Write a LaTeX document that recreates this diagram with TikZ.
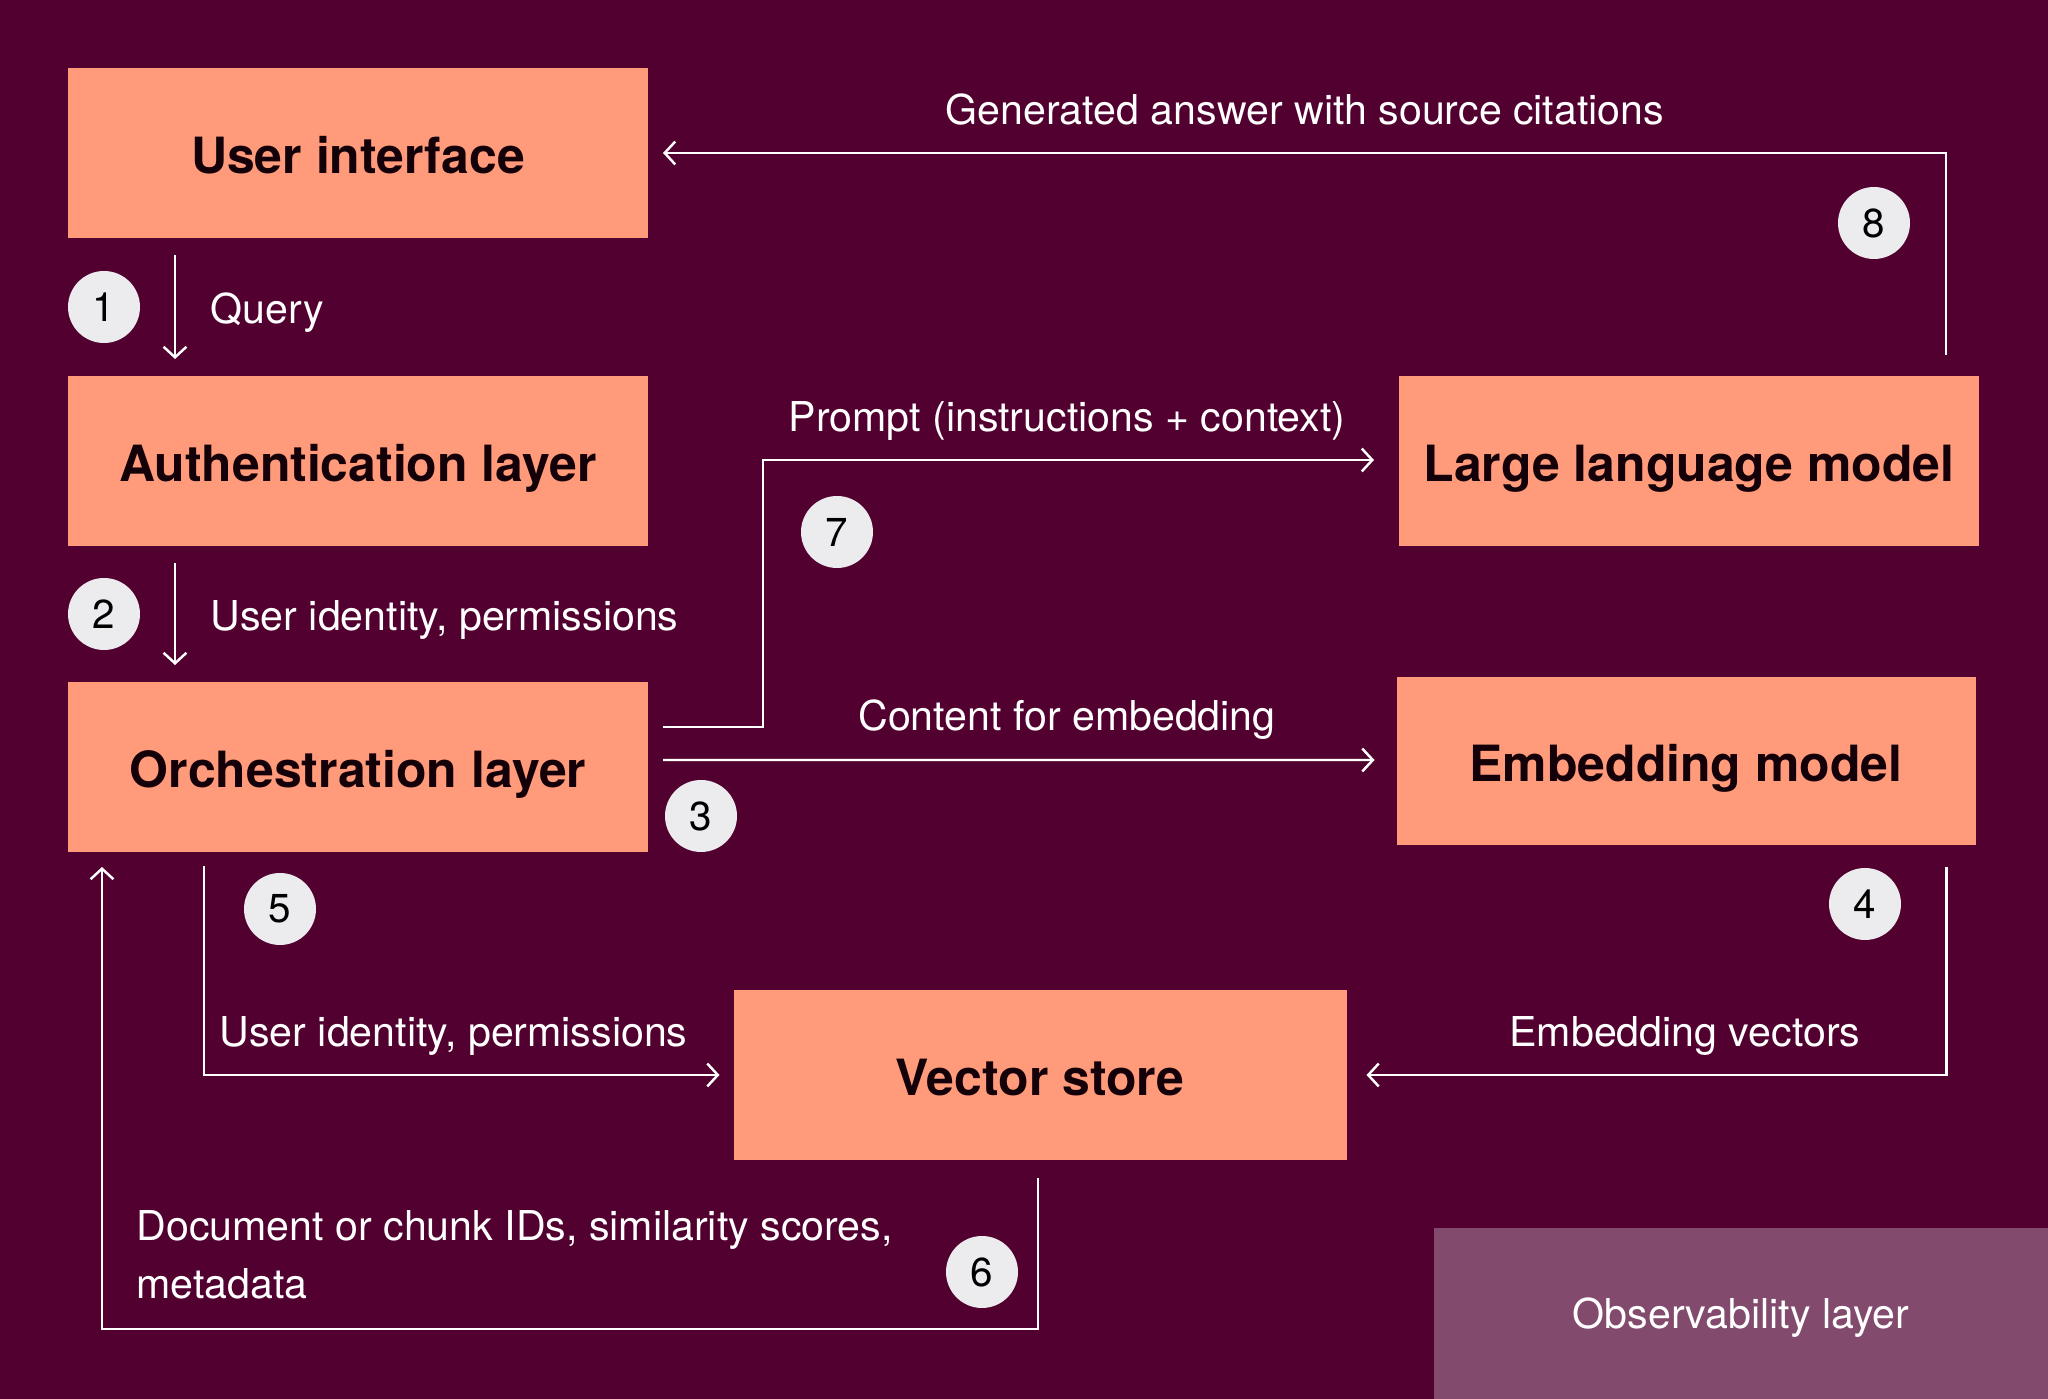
\documentclass[tikz,border=0pt]{standalone}
\usepackage{fontspec}
\setmainfont{TeX Gyre Heros}
\usetikzlibrary{positioning, arrows.meta, calc}
\definecolor{bgcol}{HTML}{520030}
\definecolor{boxcol}{HTML}{FF9A7B}
\definecolor{obscol}{HTML}{824A6C}
\definecolor{numcol}{HTML}{ECEBEE}
\definecolor{textcol}{HTML}{140008}
\tikzset{
  block/.style={rectangle, fill=boxcol, minimum width=5.80cm, minimum height=1.70cm,
                inner sep=0pt, outer sep=0pt, text=textcol,
                text height=11.6pt, text depth=0pt,
                font=\fontsize{14.2}{17}\selectfont\bfseries},
  obs box/.style={rectangle, fill=obscol, minimum width=6.14cm, minimum height=1.71cm,
                  inner sep=0pt, outer sep=0pt, text=white,
                  text height=8.8pt, text depth=0pt,
                  font=\fontsize{11.7}{14}\selectfont},
  num node/.style={circle, fill=numcol, minimum size=7.2mm, inner sep=0pt,
                   text=black, font=\fontsize{11.5}{14}\selectfont},
  annot/.style={text=white, inner sep=0pt, font=\fontsize{11.7}{16.5}\selectfont},
  arr/.style={-{Straight Barb[length=3pt, width=6.5pt]}, line width=0.7pt, white},
}
\begin{document}
\begin{tikzpicture}
    \fill[bgcol] (0,0) rectangle (20.48,13.99);
    \useasboundingbox (0,0) rectangle (20.48,13.99);

    \node[block] (ui) at (3.58,12.46) {User interface};
    \node[block] (auth) at (3.58,9.38) {Authentication layer};
    \node[block] (orch) at (3.58,6.32) {Orchestration layer};
    \node[block] (llm) at (16.89,9.38) {Large language model};
    \node[block, minimum width=5.79cm, minimum height=1.68cm] (emb) at (16.86,6.38) {Embedding model};
    \node[block, minimum width=6.13cm] (vs) at (10.40,3.24) {Vector store};
    \node[obs box] (obs) at (17.41,0.855) {Observability layer};

    \node[num node] (n1) at (1.04,10.92) {1};
    \node[num node] (n2) at (1.04,7.85) {2};
    \node[num node] (n3) at (7.01,5.83) {3};
    \node[num node] (n4) at (18.65,4.95) {4};
    \node[num node] (n5) at (2.80,4.90) {5};
    \node[num node] (n6) at (9.82,1.27) {6};
    \node[num node] (n7) at (8.37,8.67) {7};
    \node[num node] (n8) at (18.74,11.76) {8};

    % query and identity
    \draw[arr] ($(ui.south west)+(1.07,-0.17)$) -- ($(auth.north west)+(1.07,0.17)$);
    \node[annot, anchor=west] (q) at (2.10,10.86) {Query};
    \draw[arr] ($(auth.south west)+(1.07,-0.17)$) -- ($(orch.north west)+(1.07,0.17)$);
    \node[annot, anchor=west] (uid) at (2.10,7.79) {User identity, permissions};

    % orchestration out
    \draw[arr] ($(orch.east)+(0.15,0.07)$) -- ($(emb.west)+(-0.22,0.01)$);
    \node[annot] (cfe) at (10.67,6.79) {Content for embedding};
    \draw[arr] ($(orch.east)+(0.15,0.40)$) -- ++(1.00,0) |- ($(llm.west)+(-0.25,0.01)$);
    \node[annot] (pr) at (10.67,9.78) {Prompt (instructions + context)};

    % answer back
    \draw[arr] ($(llm.north east)+(-0.33,0.21)$) |- ($(ui.east)+(0.15,0)$);
    \node[annot] (ga) at (13.05,12.89) {Generated answer with source citations};

    % vector store
    \draw[arr] ($(emb.south east)+(-0.29,-0.22)$) |- ($(vs.east)+(0.20,0)$);
    \node[annot] (ev) at (16.85,3.63) {Embedding vectors};
    \draw[arr] ($(orch.south west)+(1.36,-0.14)$) |- ($(vs.west)+(-0.14,0)$);
    \node[annot, anchor=west] (uid2) at (2.19,3.63) {User identity, permissions};
    \draw[arr] ($(vs.south)+(-0.02,-0.18)$) -- ++(0,-1.51) -| ($(orch.south west)+(0.34,-0.15)$);
    \node[annot, anchor=north west, align=left] (docs) at (1.36,1.89) {Document or chunk IDs, similarity scores,\\metadata};
\end{tikzpicture}
\end{document}
